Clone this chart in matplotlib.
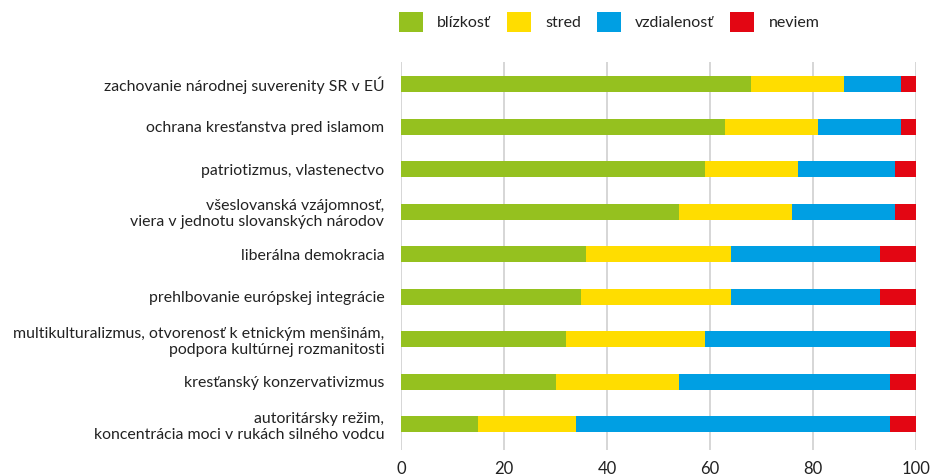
import matplotlib
matplotlib.use("Agg")
import matplotlib.pyplot as plt
from matplotlib.patches import Patch
import numpy as np

plt.rcParams['font.family'] = ['Lato', 'DejaVu Sans']

# hodnoty v %
kategorie = [
    "zachovanie národnej suverenity SR v EÚ",
    "ochrana kresťanstva pred islamom",
    "patriotizmus, vlastenectvo",
    "všeslovanská vzájomnosť,\nviera v jednotu slovanských národov",
    "liberálna demokracia",
    "prehlbovanie európskej integrácie",
    "multikulturalizmus, otvorenosť k etnickým menšinám,\npodpora kultúrnej rozmanitosti",
    "kresťanský konzervativizmus",
    "autoritársky režim,\nkoncentrácia moci v rukách silného vodcu",
]
blizkost = [68, 63, 59, 54, 36, 35, 32, 30, 15]
stred = [18, 18, 18, 22, 28, 29, 27, 24, 19]
vzdialenost = [11, 16, 19, 20, 29, 29, 36, 41, 61]
neviem = [3, 3, 4, 4, 7, 7, 5, 5, 5]

serie = ["blízkosť", "stred", "vzdialenosť", "neviem"]
farby = ["#95C11F", "#FFDD00", "#009FE3", "#E30613"]

fig = plt.figure(figsize=(9.3, 4.76), dpi=100)
ax = fig.add_axes([401 / 930, 1 - 450 / 476, 515 / 930, 388 / 476])

y = np.arange(len(kategorie))
left = np.zeros(len(kategorie))
for vals, name, c in zip([blizkost, stred, vzdialenost, neviem], serie, farby):
    ax.barh(y, vals, left=left, height=0.38, color=c, label=name, zorder=3)
    left += np.array(vals)

ax.set_xlim(0, 100)
ax.set_ylim(8.61, -0.52)
ax.set_xticks([0, 20, 40, 60, 80, 100])
ax.set_yticks(y)
ax.set_yticklabels(kategorie, fontsize=11.4, color="#222222")
ax.tick_params(axis='x', labelsize=12, colors="#222222", length=0, pad=8)
ax.tick_params(axis='y', length=0, pad=12)
for s in ax.spines.values():
    s.set_visible(False)
ax.grid(axis='x', color="#d0d0d0", linewidth=1.2, zorder=0)

handles = [Patch(facecolor=c, label=n) for n, c in zip(serie, farby)]
fig.legend(handles=handles, loc='center', bbox_to_anchor=(609 / 930, 1 - 22 / 476),
           ncol=4, frameon=False, fontsize=11.5, handlelength=1.5, handleheight=1.5,
           handletextpad=0.9, columnspacing=1.0, labelcolor="#222222")

fig.savefig("out.png", dpi=100)
